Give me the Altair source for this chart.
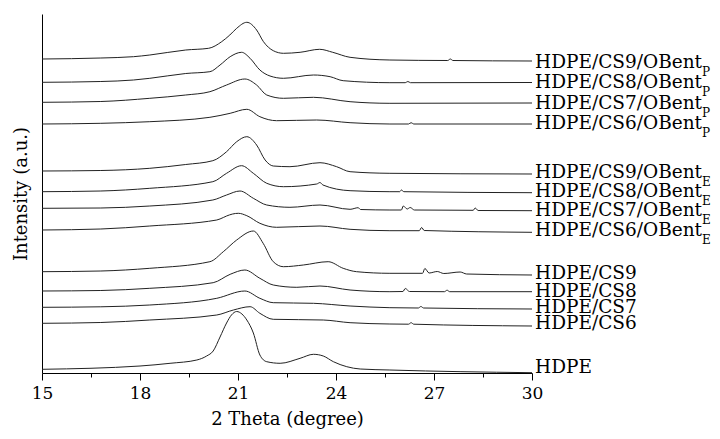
import altair as alt
import pandas as pd

# ---- data (2 theta in degrees, intensity in a.u.) ----
hdpe_x = [15, 18, 18.92, 19.74, 20.04, 20.24, 20.45, 20.65, 20.8, 20.96, 21.12, 21.27, 21.47, 21.67, 21.88, 22.29, 22.9, 23.31, 23.61, 23.92, 24.33, 24.74, 25.65, 30]
hdpe_y = [3.7, 7, 9.7, 13, 17, 22, 36, 50, 58, 61.5, 59, 53, 40, 18, 11.3, 9.7, 14.7, 18.7, 17, 11.3, 6.3, 4, 3, 0.3]

cs6_x = [15, 16.8, 18.3, 20.35, 20.86, 21.37, 21.67, 22.08, 23.61, 24.43, 25.65, 26.22, 26.3, 26.38, 30]
cs6_y = [49.7, 50.5, 53, 58, 63, 66.3, 59.7, 53.7, 53, 50.3, 49, 48.8, 50.3, 48.8, 47]

cs7_x = [15, 16.8, 18.3, 20.35, 21.21, 21.67, 22.08, 23.31, 24.43, 25.65, 26.52, 26.6, 26.68, 30]
cs7_y = [65.7, 66.2, 68, 74.7, 82, 74.7, 70.3, 69.7, 67, 65.3, 65, 66.5, 65, 64]

cs8_x = [15, 16.8, 18.3, 20.24, 20.76, 21.21, 21.67, 22.08, 22.8, 23.51, 24.43, 25.65, 26.05, 26.12, 26.25, 27.32, 27.4, 27.48, 30]
cs8_y = [82, 82.5, 84.7, 90.3, 98.7, 103, 94.7, 88, 85.7, 87, 83, 81.3, 81.5, 84.5, 81.5, 81.3, 82.8, 81.3, 81.3]

cs9_x = [15, 16.8, 18.3, 20.14, 20.55, 20.96, 21.47, 21.77, 22.08, 22.39, 23.0, 23.76, 24.22, 24.63, 25.65, 26.65, 26.72, 26.85, 27.1, 27.3, 27.8, 28.0, 30]
cs9_y = [101.3, 102, 104.7, 111.3, 121.3, 133, 142, 129.7, 111.3, 106.3, 108, 111.3, 104.7, 101.3, 99.7, 99.7, 104.5, 100, 101.5, 99.5, 101, 99, 98]

cs6e_x = [15, 16.8, 18.3, 20.35, 20.55, 20.65, 21.01, 21.27, 21.67, 22.18, 23.51, 24.43, 25.65, 26.55, 26.62, 26.7, 30]
cs6e_y = [143, 144, 147, 153, 155.5, 157, 159.7, 157.3, 149.7, 145.7, 147, 143.7, 142.3, 142.3, 145.5, 142.5, 140.7]

cs7e_x = [15, 16.8, 18.3, 20.23, 20.65, 21.06, 21.47, 21.88, 22.59, 23.51, 24.43, 24.68, 24.75, 25.65, 26.0, 26.06, 26.18, 26.27, 26.4, 28.2, 28.26, 28.35, 30]
cs7e_y = [164.7, 165, 167, 173, 178, 182, 174.7, 168, 165.7, 168, 163.7, 165.3, 163.5, 163, 163, 167, 164, 165.5, 163, 162.7, 165, 162.5, 162.3]

cs8e_x = [15, 16.8, 18.3, 20.23, 20.65, 21.11, 21.47, 21.88, 22.39, 23.41, 23.51, 23.6, 24.43, 25.65, 25.95, 26.0, 26.08, 30]
cs8e_y = [181.3, 182, 184.7, 191.3, 199.7, 207.3, 199.7, 189.7, 186.3, 189, 190.5, 188, 182.3, 181.3, 181.3, 183, 181.3, 180.3]

cs9e_x = [15, 16.8, 18.3, 19.4, 20.23, 20.65, 20.96, 21.27, 21.57, 21.83, 22.08, 22.59, 23.51, 24.02, 24.43, 25.65, 30]
cs9e_y = [202, 202.5, 204.7, 208.5, 212.3, 221.3, 231.3, 236.3, 228, 213, 207, 206.3, 210.3, 206.3, 201.3, 199.7, 199]

cs6p_x = [15, 16.8, 18.3, 20.14, 20.76, 21.27, 21.67, 22.18, 23.41, 24.43, 25.65, 26.22, 26.3, 26.38, 30]
cs6p_y = [249, 249.7, 251.3, 255.7, 259.7, 263.7, 256.3, 252.3, 253, 250.3, 249, 249, 250.3, 249, 249]

cs7p_x = [15, 16.8, 18.3, 19.4, 20.14, 20.65, 21.21, 21.57, 21.88, 22.39, 23.31, 24.43, 25.65, 30]
cs7p_y = [270.7, 271.5, 274.7, 278, 281.3, 288, 294, 288, 278, 274.7, 275.7, 271.3, 269.7, 270]

cs8p_x = [15, 16.8, 17.8, 18.3, 19.4, 20.14, 20.45, 20.76, 21.11, 21.37, 21.67, 21.98, 22.39, 23.31, 23.82, 24.22, 25.65, 26.12, 26.2, 26.28, 30]
cs8p_y = [290.7, 291.5, 293, 294.7, 299.5, 301.3, 308, 316.3, 320.7, 314.7, 303, 297, 294.7, 298, 296.3, 292.3, 290.3, 290.3, 291.5, 290.3, 290.5]

cs9p_x = [15, 16.8, 17.8, 18.3, 19.4, 20.1, 20.5, 20.75, 20.96, 21.27, 21.57, 21.78, 22.08, 22.39, 22.9, 23.5, 23.9, 24.43, 25.65, 27.42, 27.5, 27.58, 30]
cs9p_y = [314, 315, 316.3, 318, 323, 324.7, 331.3, 338, 344.7, 350.7, 343, 331.3, 322.3, 319.7, 320.7, 323.7, 320.7, 315.7, 313, 312.5, 314, 312.5, 312]

sample_names = ["HDPE", "HDPE/CS6", "HDPE/CS7", "HDPE/CS8", "HDPE/CS9",
                "HDPE/CS6/OBent_E", "HDPE/CS7/OBent_E", "HDPE/CS8/OBent_E", "HDPE/CS9/OBent_E",
                "HDPE/CS6/OBent_P", "HDPE/CS7/OBent_P", "HDPE/CS8/OBent_P", "HDPE/CS9/OBent_P"]
label_main = ["HDPE", "HDPE/CS6", "HDPE/CS7", "HDPE/CS8", "HDPE/CS9",
              "HDPE/CS6/OBent", "HDPE/CS7/OBent", "HDPE/CS8/OBent", "HDPE/CS9/OBent",
              "HDPE/CS6/OBent", "HDPE/CS7/OBent", "HDPE/CS8/OBent", "HDPE/CS9/OBent"]
label_sub = ["", "", "", "", "", "E", "E", "E", "E", "P", "P", "P", "P"]
label_y = [6, 50, 66, 82, 100, 143, 163, 182, 201, 250, 270, 291, 311]

series_x = [hdpe_x, cs6_x, cs7_x, cs8_x, cs9_x, cs6e_x, cs7e_x, cs8e_x, cs9e_x, cs6p_x, cs7p_x, cs8p_x, cs9p_x]
series_y = [hdpe_y, cs6_y, cs7_y, cs8_y, cs9_y, cs6e_y, cs7e_y, cs8e_y, cs9e_y, cs6p_y, cs7p_y, cs8p_y, cs9p_y]

x_ticks = [15, 16.5, 18, 19.5, 21, 22.5, 24, 25.5, 27, 28.5, 30]

rows = []
for name, xs, ys in zip(sample_names, series_x, series_y):
    for xv, yv in zip(xs, ys):
        rows.append({"sample": name, "theta": xv, "intensity": yv})
curves = pd.DataFrame(rows)

labels = pd.DataFrame({"sample": sample_names, "main": label_main, "sub": label_sub, "ly": label_y})
subs = labels[labels["sub"] != ""]

FONT = "DejaVu Serif"
xscale = alt.Scale(domain=[15, 30], nice=False, zero=False)
yscale = alt.Scale(domain=[0, 359], nice=False, zero=False)

lines = alt.Chart(curves).mark_line(interpolate="monotone", color="#222222", strokeWidth=1).encode(
    x=alt.X("theta:Q", scale=xscale, title="2 Theta (degree)",
            axis=alt.Axis(values=x_ticks, grid=False, domainColor="#000000", tickColor="#000000",
                          tickSize=alt.condition("datum.value % 3 == 0", alt.value(7), alt.value(4)),
                          labelExpr="datum.value % 3 == 0 ? datum.label : ''",
                          labelFlush=False, labelOverlap=False,
                          labelFont=FONT, labelFontSize=17, labelColor="#000000", labelPadding=5,
                          titleFont=FONT, titleFontSize=18, titleFontWeight="normal", titleColor="#000000",
                          titlePadding=9)),
    y=alt.Y("intensity:Q", scale=yscale, title="Intensity (a.u.)",
            axis=alt.Axis(grid=False, ticks=False, labels=False, domainColor="#000000",
                          titleFont=FONT, titleFontSize=18, titleFontWeight="normal", titleColor="#000000",
                          titlePadding=12)),
    detail="sample:N",
)

main_text = alt.Chart(labels).mark_text(align="left", baseline="middle", font=FONT, fontSize=18.5,
                                        color="#000000", dx=3).encode(
    x=alt.datum(30, scale=xscale),
    y=alt.Y("ly:Q", scale=yscale),
    text="main:N",
)

sub_text = alt.Chart(subs).mark_text(align="left", baseline="middle", font=FONT, fontSize=12,
                                     color="#000000", dx=170, dy=10).encode(
    x=alt.datum(30, scale=xscale),
    y=alt.Y("ly:Q", scale=yscale),
    text="sub:N",
)

chart = alt.layer(lines, main_text, sub_text).properties(
    width=490, height=359,
    autosize=alt.AutoSizeParams(type="none"),
    padding={"left": 34, "top": 6, "right": 180, "bottom": 58},
).configure_view(stroke=None)

chart.save("out.html", embed_options={"renderer": "svg", "actions": False})
